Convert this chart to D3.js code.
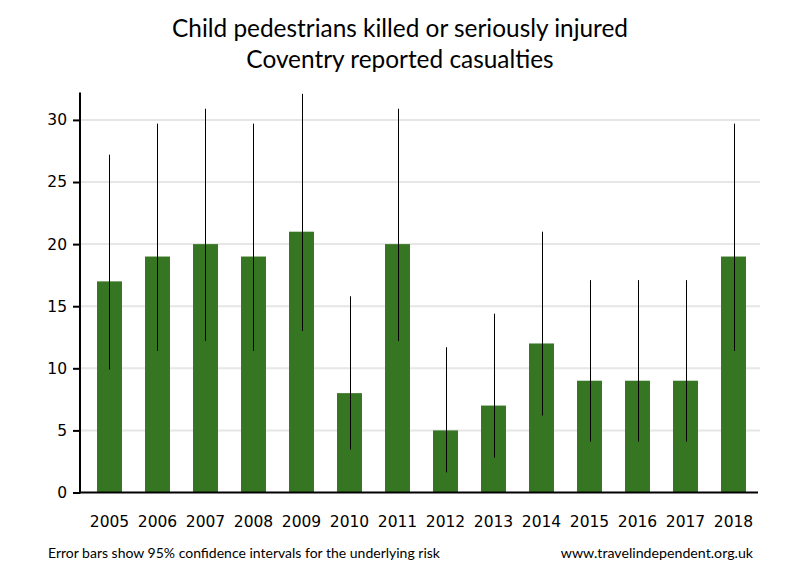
<!DOCTYPE html>
<html><head><meta charset="utf-8">
<script src="https://cdn.jsdelivr.net/npm/d3@7"></script>
<style>body{margin:0;background:#fff}</style>
</head><body>
<svg id="chart" width="800" height="580"></svg>
<script>
const years = ["2005","2006","2007","2008","2009","2010","2011","2012","2013","2014","2015","2016","2017","2018"];
const casualties = [17,19,20,19,21,8,20,5,7,12,9,9,9,19];
const ciLower = [9.9,11.4,12.2,11.4,13.0,3.45,12.2,1.62,2.8,6.2,4.1,4.1,4.1,11.4];
const ciUpper = [27.2,29.7,30.9,29.7,32.1,15.8,30.9,11.7,14.4,21.0,17.1,17.1,17.1,29.7];
const yTicks = [0,5,10,15,20,25,30];
const titleLines = ["Child pedestrians killed or seriously injured","Coventry reported casualties"];
const footLeft = "Error bars show 95% confidence intervals for the underlying risk";
const footRight = "www.travelindependent.org.uk";

const svg = d3.select("#chart");
const axisX = 80, plotRight = 760, y0px = 492.5, yTopPx = 92.6;
const x = d3.scaleBand().domain(years).range([85.5,757.5]).paddingInner(0.48).paddingOuter(0.24);
const y = d3.scaleLinear().domain([0,32.2]).range([y0px,yTopPx]);

// gridlines
svg.append("g").selectAll("line").data(yTicks.filter(t=>t>0)).join("line")
  .attr("x1",axisX).attr("x2",plotRight)
  .attr("y1",d=>y(d)).attr("y2",d=>y(d))
  .attr("stroke","#e6e6e6").attr("stroke-width",2);

// bars
svg.append("g").selectAll("rect").data(years).join("rect")
  .attr("x",d=>x(d)).attr("width",x.bandwidth())
  .attr("y",(d,i)=>y(casualties[i])).attr("height",(d,i)=>y(0)-y(casualties[i]))
  .attr("fill","#367521");

// error bars
svg.append("g").selectAll("line").data(years).join("line")
  .attr("x1",d=>Math.round(x(d)+x.bandwidth()/2)+0.5).attr("x2",d=>Math.round(x(d)+x.bandwidth()/2)+0.5)
  .attr("y1",(d,i)=>y(ciLower[i])).attr("y2",(d,i)=>y(ciUpper[i]))
  .attr("stroke","#000").attr("stroke-width",1);

// y axis
const yAxis = d3.axisLeft(y).tickValues(yTicks).tickSize(7).tickPadding(6);
const gy = svg.append("g").attr("transform",`translate(${axisX},0)`).call(yAxis);
gy.select(".domain").remove();
gy.selectAll(".tick line").attr("stroke","#000").attr("stroke-width",2);
gy.selectAll(".tick text").attr("font-family","DejaVu Sans, Verdana, sans-serif").attr("font-size",15.5).attr("fill","#000");
svg.append("line").attr("x1",axisX).attr("x2",axisX).attr("y1",yTopPx).attr("y2",y0px+1)
  .attr("stroke","#000").attr("stroke-width",2);

// x axis
const xAxis = d3.axisBottom(x).tickSize(0).tickPadding(23);
const gx = svg.append("g").attr("transform",`translate(0,${y0px})`).call(xAxis);
gx.select(".domain").remove();
gx.selectAll(".tick text").attr("font-family","DejaVu Sans, Verdana, sans-serif").attr("font-size",15.5).attr("fill","#000");
svg.append("line").attr("x1",axisX-1).attr("x2",758).attr("y1",y0px).attr("y2",y0px)
  .attr("stroke","#000").attr("stroke-width",2);

// title
svg.append("g").selectAll("text").data(titleLines).join("text")
  .attr("x",400).attr("y",(d,i)=>37+i*31).attr("text-anchor","middle")
  .attr("font-family","Lato, sans-serif").attr("font-size",24.4).attr("fill","#000").text(d=>d);

// footer
svg.append("text").attr("x",48).attr("y",558).attr("font-family","Lato, sans-serif").attr("font-size",14).attr("fill","#000").text(footLeft);
svg.append("text").attr("x",753).attr("y",558).attr("text-anchor","end").attr("font-family","Lato, sans-serif").attr("font-size",14.2).attr("fill","#000").text(footRight);
</script>
</body></html>
